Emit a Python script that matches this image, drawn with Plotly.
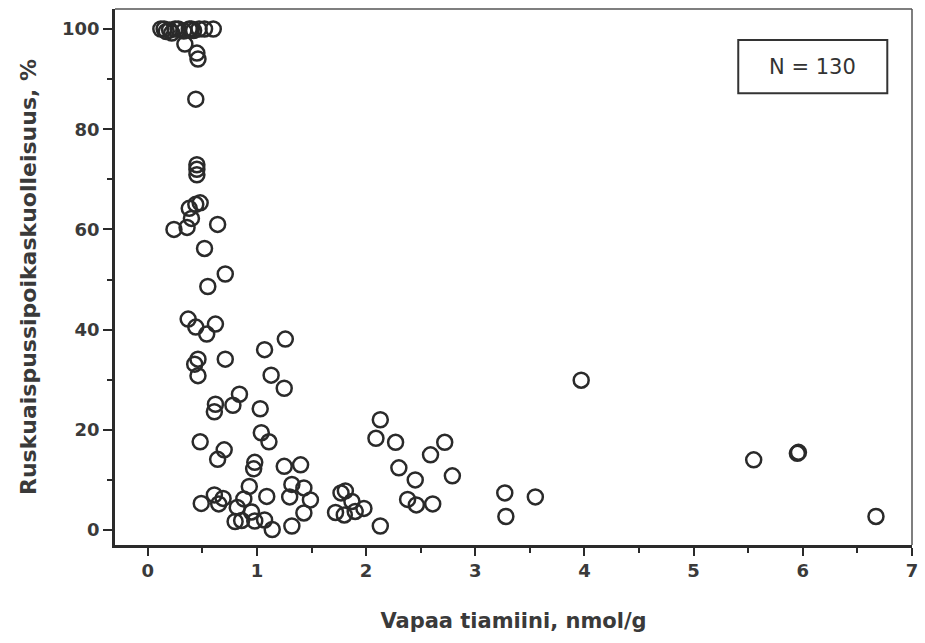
import plotly.graph_objects as go

# Vapaa tiamiini (nmol/g) and mortality (%)
tiamiini = [
    0.12, 0.15, 0.17, 0.20, 0.25, 0.28, 0.33, 0.38, 0.40, 0.42, 0.47, 0.52, 0.60, 0.22,
    0.34, 0.45, 0.46, 0.44, 0.45, 0.45, 0.45, 0.48, 0.44, 0.38, 0.40, 0.24, 0.36,
    0.64, 0.52, 0.71, 0.55, 0.37, 0.44, 0.62, 0.54, 1.26, 1.07, 0.46, 0.43, 0.71,
    0.46, 1.13, 1.25, 0.84, 0.78, 0.62, 0.61, 1.03, 1.04, 1.11, 0.48, 0.70, 0.64,
    0.98, 0.97, 1.25, 1.40, 0.93, 1.32, 1.43, 1.81, 1.77, 1.09, 1.30, 1.49, 0.88,
    0.61, 0.69, 0.49, 0.65, 1.87, 1.98, 1.72, 1.80, 1.90, 1.43, 0.82, 0.95, 0.80,
    0.86, 0.98, 1.07, 1.14, 1.32, 3.97, 2.13, 2.09, 2.27, 2.72, 2.59, 2.30, 2.79,
    2.45, 3.27, 3.55, 2.38, 2.46, 2.61, 3.28, 2.13, 5.55, 5.95, 5.96, 6.67,
]
kuolleisuus = [
    100, 100, 99.5, 99.8, 100, 100, 99.6, 100, 100, 99.7, 100, 100, 100, 99.2,
    97, 95.2, 94, 86, 72.9, 72, 70.9, 65.3, 65, 64.2, 62.2, 60, 60.4,
    61, 56.2, 51.1, 48.6, 42.1, 40.5, 41.1, 39.1, 38.1, 36, 34.1, 33.1, 34.1,
    30.8, 30.9, 28.3, 27.1, 24.9, 25.1, 23.6, 24.2, 19.4, 17.6, 17.6, 16, 14.1,
    13.5, 12.2, 12.7, 13, 8.7, 9.1, 8.4, 7.8, 7.4, 6.7, 6.6, 6, 6.2,
    7, 6.3, 5.3, 5.2, 5.7, 4.3, 3.5, 3, 3.7, 3.4, 4.5, 3.6, 1.7,
    1.9, 1.8, 2, 0.1, 0.8, 29.9, 22, 18.3, 17.5, 17.5, 15, 12.4, 10.8,
    10, 7.4, 6.6, 6.1, 5, 5.2, 2.7, 0.8, 14, 15.3, 15.5, 2.7,
]

x_ticks = [0, 1, 2, 3, 4, 5, 6, 7]
y_ticks = [0, 20, 40, 60, 80, 100]

FONT = "DejaVu Sans, Liberation Sans, sans-serif"
INK = "#2a2a2a"
TEXT = "#3a3a3a"

fig = go.Figure()
fig.add_trace(go.Scatter(
    x=tiamiini, y=kuolleisuus, mode="markers",
    marker=dict(symbol="circle-open", size=15, color=INK, line=dict(width=2.5, color=INK)),
    showlegend=False, hoverinfo="x+y",
))

tickfont = dict(family=FONT, size=18, color=TEXT, weight="bold")

fig.update_layout(
    width=925, height=643,
    margin=dict(l=115, r=7, t=9, b=98),
    paper_bgcolor="white", plot_bgcolor="white",
    font=dict(family=FONT, color=TEXT, size=18),
    xaxis=dict(
        range=[-0.3, 7.0], tickvals=x_ticks, ticktext=[str(v) for v in x_ticks],
        showgrid=False, zeroline=False, showline=True, linecolor=INK, linewidth=2.5,
        ticks="outside", ticklen=8, tickwidth=2, tickcolor=INK,
        minor=dict(dtick=0.5, tick0=0, ticks="outside", ticklen=5, tickwidth=2, tickcolor=INK),
        tickfont=tickfont,
        title=dict(text="Vapaa tiamiini, nmol/g",
                   font=dict(family=FONT, size=21, color=TEXT, weight="bold"), standoff=33),
    ),
    yaxis=dict(
        range=[-3, 104], tickvals=y_ticks, ticktext=[str(v) for v in y_ticks],
        showgrid=False, zeroline=False, showline=True, linecolor=INK, linewidth=2.5,
        ticks="outside", ticklen=9, tickwidth=2, tickcolor=INK,
        minor=dict(dtick=10, tick0=0, ticks="outside", ticklen=5, tickwidth=2, tickcolor=INK),
        tickfont=tickfont,
        title=dict(text="Ruskuaispussipoikaskuolleisuus, %",
                   font=dict(family=FONT, size=22, color=TEXT, weight="bold"), standoff=20),
    ),
    shapes=[
        dict(type="line", xref="paper", yref="paper", x0=0, x1=1, y0=1, y1=1,
             line=dict(color="#555", width=1.5)),
        dict(type="line", xref="paper", yref="paper", x0=1, x1=1, y0=0, y1=1,
             line=dict(color="#555", width=1.5)),
        dict(type="rect", xref="paper", yref="paper", x0=0.782, x1=0.969, y0=0.843, y1=0.942,
             line=dict(color="#333", width=2), fillcolor="white"),
    ],
    annotations=[
        dict(text="N = 130", xref="paper", yref="paper", x=0.8755, y=0.8925,
             showarrow=False, font=dict(size=21, color="#333", family=FONT),
             xanchor="center", yanchor="middle"),
    ],
)

fig.write_html("out.html")
